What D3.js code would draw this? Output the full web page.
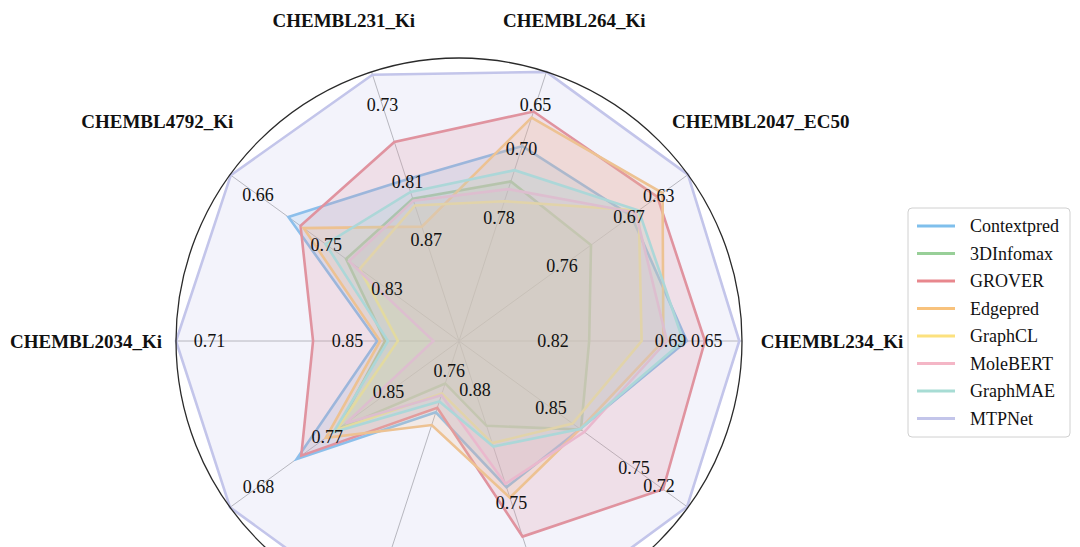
<!DOCTYPE html>
<html>
<head>
<meta charset="utf-8">
<script src="https://cdn.jsdelivr.net/npm/d3@7"></script>
<style>
  html, body { margin: 0; padding: 0; background: #ffffff; }
  svg { display: block; font-family: "Liberation Serif", "Times New Roman", serif; }
</style>
</head>
<body>
<svg id="chart" width="1080" height="547"></svg>
<script>
// ---------------- data ----------------
const categories = ["CHEMBL234_Ki", "CHEMBL2047_EC50", "CHEMBL264_Ki", "CHEMBL231_Ki", "CHEMBL4792_Ki",
                    "CHEMBL2034_Ki", "", "", "", ""];
// value shown at the centre and at the outer circle of each axis (lower is better, plotted outward)
const axisInner = [0.924, 0.898, 0.923, 0.975, 0.925, 0.963, 0.942, 0.793, 0.937, 0.961];
const axisOuter = [0.611, 0.591, 0.611, 0.695, 0.623, 0.676, 0.643, 0.495, 0.626, 0.685];
const axisTicks = [
  [0.82, 0.69, 0.65],
  [0.76, 0.67, 0.63],
  [0.78, 0.70, 0.65],
  [0.87, 0.81, 0.73],
  [0.83, 0.75, 0.66],
  [0.85, 0.71],
  [0.85, 0.77, 0.68],
  [0.76],
  [0.88, 0.75],
  [0.85, 0.75, 0.72]
];
const seriesNames = ["Contextpred", "3DInfomax", "GROVER", "Edgepred", "GraphCL", "MoleBERT", "GraphMAE", "MTPNet"];
const contextpred = [0.672, 0.667, 0.697, 0.807, 0.700, 0.880, 0.730, 0.714, 0.768, 0.815];
const infomax3d   = [0.780, 0.721, 0.738, 0.827, 0.776, 0.888, 0.783, 0.746, 0.839, 0.814];
const grover      = [0.652, 0.632, 0.657, 0.768, 0.716, 0.815, 0.736, 0.719, 0.711, 0.715];
const edgepred    = [0.698, 0.625, 0.664, 0.856, 0.720, 0.883, 0.768, 0.700, 0.756, 0.815];
const graphcl     = [0.722, 0.657, 0.761, 0.834, 0.794, 0.901, 0.782, 0.735, 0.819, 0.824];
const molebert    = [0.694, 0.661, 0.747, 0.829, 0.780, 0.937, 0.794, 0.733, 0.772, 0.810];
const graphmae    = [0.676, 0.657, 0.725, 0.820, 0.749, 0.891, 0.778, 0.726, 0.815, 0.815];
const mtpnet      = [0.614, 0.591, 0.611, 0.698, 0.624, 0.676, 0.643, 0.495, 0.626, 0.686];
const seriesValues = [contextpred, infomax3d, grover, edgepred, graphcl, molebert, graphmae, mtpnet];
const seriesColors = ["#7fbfec", "#98cf98", "#e8878d", "#f8c27c", "#fce17e", "#f4b6c6", "#a7dcd4", "#c3c5ea"];

// ---------------- layout ----------------
const W = 1080, H = 547;
const cx = 459, cy = 341, R = 283;
const labelR = 373;
const svg = d3.select("#chart");
const g = svg.append("g");

const n = categories.length;
const angleOf = i => i * 2 * Math.PI / n;  // counter-clockwise from east
const rScales = d3.range(n).map(i => d3.scaleLinear().domain([axisInner[i], axisOuter[i]]).range([0, R]));
const pt = (i, r) => [cx + r * Math.cos(angleOf(i)), cy - r * Math.sin(angleOf(i))];

// white polar background
g.append("circle").attr("cx", cx).attr("cy", cy).attr("r", R).attr("fill", "#ffffff");

// radial axis lines
d3.range(n).forEach(i => {
  const [x2, y2] = pt(i, R);
  g.append("line").attr("x1", cx).attr("y1", cy).attr("x2", x2).attr("y2", y2)
    .attr("stroke", "#b4b4b4").attr("stroke-width", 1);
});

// series polygons
const line = d3.line().curve(d3.curveLinearClosed);
seriesValues.forEach((vals, s) => {
  const pts = vals.map((v, i) => pt(i, rScales[i](v)));
  g.append("path").attr("d", line(pts))
    .attr("fill", seriesColors[s]).attr("fill-opacity", 0.2)
    .attr("stroke", seriesColors[s]).attr("stroke-width", 2.6)
    .attr("stroke-linejoin", "miter");
});

// outer circle
g.append("circle").attr("cx", cx).attr("cy", cy).attr("r", R)
  .attr("fill", "none").attr("stroke", "#2a2a2a").attr("stroke-width", 1.3);

// tick labels
axisTicks.forEach((ticks, i) => {
  ticks.forEach(t => {
    const [x, y] = pt(i, rScales[i](t));
    g.append("text").attr("x", x).attr("y", y)
      .attr("text-anchor", "middle").attr("dominant-baseline", "central")
      .attr("font-size", 18).attr("fill", "#111")
      .text(d3.format(".2f")(t));
  });
});

// category labels
categories.forEach((c, i) => {
  if (!c) return;
  let [x, y] = pt(i, labelR);
  y = Math.max(y, 20);
  g.append("text").attr("x", x).attr("y", y)
    .attr("text-anchor", "middle").attr("dominant-baseline", "central")
    .attr("font-size", 19).attr("font-weight", "bold").attr("fill", "#111")
    .text(c);
});

// legend
const lg = svg.append("g").attr("transform", "translate(908,208)");
lg.append("rect").attr("width", 162).attr("height", 229).attr("rx", 4)
  .attr("fill", "#ffffff").attr("fill-opacity", 0.85).attr("stroke", "#d0d0d0");
seriesNames.forEach((name, s) => {
  const y = 18 + s * 27.5;
  lg.append("line").attr("x1", 9).attr("x2", 47).attr("y1", y).attr("y2", y)
    .attr("stroke", seriesColors[s]).attr("stroke-width", 3);
  lg.append("text").attr("x", 62).attr("y", y).attr("dominant-baseline", "central")
    .attr("font-size", 18).attr("fill", "#111").text(name);
});
</script>
</body>
</html>
